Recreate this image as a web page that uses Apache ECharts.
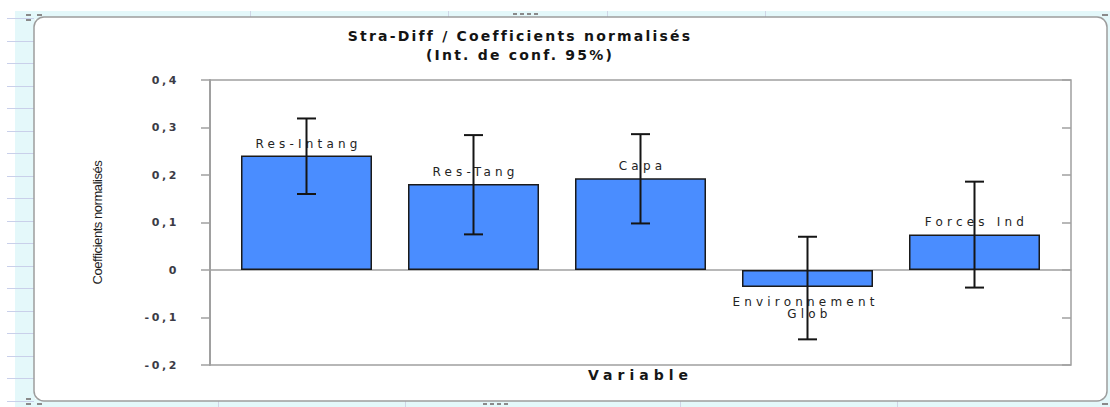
<!DOCTYPE html>
<html>
<head>
<meta charset="utf-8">
<title>Stra-Diff / Coefficients normalisés</title>
<script src="https://cdn.jsdelivr.net/npm/echarts@6/dist/echarts.min.js"></script>
<style>
  html, body { margin: 0; padding: 0; background: #ffffff; }
  #chart { width: 1110px; height: 407px; }
  /* wide tracking for the chart texts (SVG renderer) */
  text[fill="#141414"] { letter-spacing: 2.2px; }
  text[fill="#232323"] { letter-spacing: 4.2px; }
  text[fill="#3b3b46"] { letter-spacing: 2.6px; }
  text[fill="#161616"] { letter-spacing: 5px; }
  text[fill="#1c1c1c"] { letter-spacing: -0.45px; }
</style>
</head>
<body>
<div id="chart"></div>
<script>
// Normalised coefficients with their 95% confidence bounds
const categories = ['Res-Intang', 'Res-Tang', 'Capa', 'Environnement Glob', 'Forces Ind'];
const coefficients = [0.241, 0.181, 0.193, -0.036, 0.075];
const lowerBounds = [0.160, 0.075, 0.098, -0.146, -0.037];
const upperBounds = [0.319, 0.284, 0.286, 0.070, 0.186];
const yTickLabels = ['-0,2', '-0,1', '0', '0,1', '0,2', '0,3', '0,4'];
const yMin = -0.2, yMax = 0.4, yStep = 0.1;

const chart = echarts.init(document.getElementById('chart'), null, { renderer: 'svg' });

const frameGray = '#a0a0a0';
const sheetCyan = '#e4f8fa';

// sheet decorations around the chart object
const deco = [
  { type: 'rect', shape: { x: 15, y: 11, width: 20, height: 396 }, style: { fill: sheetCyan } },
  { type: 'rect', shape: { x: 15, y: 11, width: 1095, height: 8 }, style: { fill: sheetCyan } },
  { type: 'rect', shape: { x: 15, y: 399, width: 1095, height: 8 }, style: { fill: sheetCyan } },
  { type: 'rect', shape: { x: 1104, y: 11, width: 6, height: 396 }, style: { fill: sheetCyan } }
];
for (let k = 0; k < 18; k++) {
  const y = Math.round(18 + 22.5 * k) + 0.5;
  deco.push({ type: 'line', shape: { x1: 7, y1: y, x2: 34, y2: y }, style: { stroke: '#c9d0ea', lineWidth: 1 } });
}
[250, 448, 607, 765].forEach(function (x) {
  deco.push({ type: 'line', shape: { x1: x + 0.5, y1: 11, x2: x + 0.5, y2: 17 }, style: { stroke: '#cfd6e6', lineWidth: 1 } });
});
[218, 405, 680, 897].forEach(function (x) {
  deco.push({ type: 'line', shape: { x1: x + 0.5, y1: 401, x2: x + 0.5, y2: 407 }, style: { stroke: '#cfd6e6', lineWidth: 1 } });
});
deco.push({
  type: 'rect',
  shape: { x: 34, y: 17, width: 1073, height: 384, r: 10 },
  style: { fill: '#ffffff', stroke: '#9d9d9d', lineWidth: 1.5 }
});
// resize handles
[[26, 14], [26, 19], [37, 14], [26, 398], [26, 403], [37, 403]].forEach(function (p) {
  deco.push({ type: 'rect', shape: { x: p[0], y: p[1], width: 5, height: 2 }, style: { fill: '#8a8a8a' } });
});
[513, 520, 527, 534].forEach(function (x) {
  deco.push({ type: 'rect', shape: { x: x, y: 13, width: 4, height: 2 }, style: { fill: '#8a8a8a' } });
});
[483, 490, 497, 504].forEach(function (x) {
  deco.push({ type: 'rect', shape: { x: x, y: 403, width: 4, height: 2 }, style: { fill: '#8a8a8a' } });
});
[[1102, 14], [1102, 403]].forEach(function (p) {
  deco.push({ type: 'rect', shape: { x: p[0], y: p[1], width: 6, height: 2 }, style: { fill: '#8a8a8a' } });
});

const valueAxisBase = { type: 'value', min: yMin, max: yMax, interval: yStep, splitLine: { show: false } };

const option = {
  backgroundColor: '#ffffff',
  animation: false,
  graphic: { elements: deco.map(function (e) { return Object.assign({ silent: true, z: -10 }, e); }) },
  title: {
    text: 'Stra-Diff / Coefficients normalisés\n(Int. de conf. 95%)',
    left: 515,
    top: 21,
    textAlign: 'center',
    textStyle: {
      fontFamily: 'DejaVu Sans',
      fontWeight: 'bold',
      fontSize: 14,
      lineHeight: 19,
      color: '#141414'
    }
  },
  grid: [
    { left: 210, top: 80, width: 861, height: 285, show: true, borderColor: frameGray, borderWidth: 1.5, backgroundColor: 'transparent' },
    { left: 223, top: 80, width: 835, height: 285 }
  ],
  xAxis: [
    {
      gridIndex: 0, type: 'category', data: categories,
      axisLine: { show: true, onZero: true, lineStyle: { color: frameGray, width: 1.5 } },
      axisTick: { show: false }, axisLabel: { show: false }, splitLine: { show: false }
    },
    {
      gridIndex: 1, type: 'category', data: categories,
      axisLine: { show: false, onZero: false }, axisTick: { show: false }, axisLabel: { show: false },
      name: 'Variable', nameLocation: 'middle', nameGap: 3,
      nameTextStyle: { fontFamily: 'DejaVu Sans', fontWeight: 'bold', fontSize: 14, color: '#161616', verticalAlign: 'top' }
    }
  ],
  yAxis: [
    Object.assign({}, valueAxisBase, {
      gridIndex: 0,
      axisLine: { show: true, lineStyle: { color: frameGray, width: 2 } },
      axisTick: { show: true, inside: false, length: 9, lineStyle: { color: frameGray, width: 1.5 } },
      axisLabel: {
        margin: 31, color: '#3b3b46', fontFamily: 'DejaVu Sans', fontWeight: 'bold', fontSize: 11,
        formatter: function (v) { return yTickLabels[Math.round((v - yMin) / yStep)]; }
      },
      name: 'Coefficients normalisés', nameLocation: 'middle', nameGap: 106, nameRotate: 90,
      nameTextStyle: { fontFamily: "'Liberation Sans Narrow', 'Arial Narrow', sans-serif", fontSize: 13, color: '#1c1c1c' }
    }),
    Object.assign({}, valueAxisBase, {
      gridIndex: 0,
      axisLine: { show: false },
      axisTick: { show: true, inside: true, length: 9, lineStyle: { color: frameGray, width: 1.5 } },
      axisLabel: { show: false }
    }),
    Object.assign({}, valueAxisBase, { gridIndex: 1, show: false })
  ],
  series: [
    {
      type: 'bar',
      xAxisIndex: 1,
      yAxisIndex: 2,
      barWidth: 131,
      data: coefficients.map(function (v) {
        return { value: v, label: { position: v < 0 ? 'bottom' : 'top', distance: v < 0 ? 9 : 6 } };
      }),
      itemStyle: { color: '#4a8dff', borderColor: '#1a1a1a', borderWidth: 1.5 },
      label: {
        show: true,
        formatter: function (p) { return categories[p.dataIndex]; },
        width: 110,
        overflow: 'break',
        offset: [2, 0],
        fontFamily: 'DejaVu Sans',
        fontSize: 12,
        lineHeight: 12,
        color: '#232323'
      },
      z: 2
    },
    {
      type: 'custom',
      xAxisIndex: 1,
      yAxisIndex: 2,
      z: 5,
      data: categories.map(function (c, i) { return [i, lowerBounds[i], upperBounds[i]]; }),
      encode: { x: 0, y: [1, 2] },
      renderItem: function (params, api) {
        const i = api.value(0);
        const lo = api.coord([i, api.value(1)]);
        const hi = api.coord([i, api.value(2)]);
        const half = 9.5;
        const style = { stroke: '#151515', lineWidth: 2 };
        return {
          type: 'group',
          children: [
            { type: 'line', shape: { x1: lo[0], y1: lo[1], x2: hi[0], y2: hi[1] }, style: style },
            { type: 'line', shape: { x1: hi[0] - half, y1: hi[1], x2: hi[0] + half, y2: hi[1] }, style: style },
            { type: 'line', shape: { x1: lo[0] - half, y1: lo[1], x2: lo[0] + half, y2: lo[1] }, style: style }
          ]
        };
      }
    }
  ]
};

chart.setOption(option);
</script>
</body>
</html>
